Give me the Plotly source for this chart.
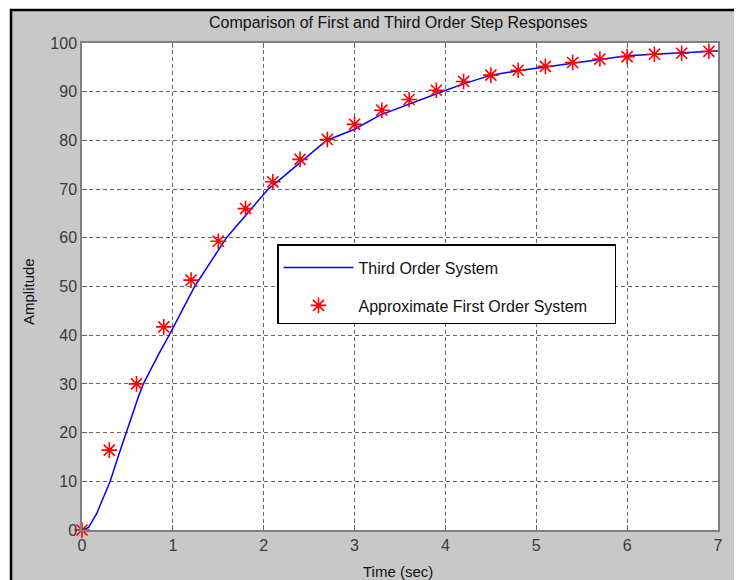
import plotly.graph_objects as go

# Third order system step response
t_third = [0, 0.07, 0.16, 0.2, 0.25, 0.31, 0.4, 0.484, 0.56, 0.62, 0.675, 0.75, 0.85, 0.96,
           1.1, 1.24, 1.4, 1.59, 1.8, 2.05, 2.2, 2.4, 2.6, 2.69, 2.8, 3.0, 3.28, 3.6, 3.8,
           3.96, 4.2, 4.5, 4.8, 5.0, 5.5, 6.0, 6.5, 7.0]
y_third = [0, 0.5, 3.3, 5.1, 7.3, 10.0, 15.2, 20.0, 24.2, 27.3, 30.0, 32.8, 36.3, 40.0,
           45.0, 50.0, 54.6, 60.0, 64.6, 70.0, 72.3, 75.5, 78.6, 80.0, 80.8, 82.3, 85.2, 87.5,
           88.9, 90.0, 91.6, 93.4, 94.3, 94.8, 96.2, 97.4, 97.9, 98.35]

# Approximate first order system samples
t_first = [0, 0.3, 0.6, 0.9, 1.2, 1.5, 1.8, 2.1, 2.4, 2.7, 3.0, 3.3, 3.6, 3.9, 4.2, 4.5,
           4.8, 5.1, 5.4, 5.7, 6.0, 6.3, 6.6, 6.9]
y_first = [0, 16.4, 30.0, 41.7, 51.3, 59.3, 66.0, 71.5, 76.1, 80.2, 83.3, 86.2, 88.4, 90.3,
           92.1, 93.4, 94.4, 95.2, 96.0, 96.7, 97.2, 97.7, 97.9, 98.3]

x_ticks = [0, 1, 2, 3, 4, 5, 6, 7]
y_ticks = [0, 10, 20, 30, 40, 50, 60, 70, 80, 90, 100]

title_text = "Comparison of First and Third Order Step Responses"
xlabel = "Time (sec)"
ylabel = "Amplitude"
series_names = ["Third Order System", "Approximate First Order System"]

# page is offset by the 8px body margin; coordinates below are page pixels
OFF = 8
W, H = 742 - OFF, 580 - OFF
ML, MR, MT, MB = 82 - OFF, 24, 43 - OFF, 50
PW = W - ML - MR
PH = H - MT - MB


def px_x(px):
    """page pixel -> paper x"""
    return (px - OFF - ML) / PW


def px_y(py):
    """page pixel -> paper y"""
    return (H - MB - (py - OFF)) / PH


GREY_BG = "#c8c8c8"
FONT = "Liberation Sans"
NBSP = "\u00a0"

fig = go.Figure()
fig.add_trace(go.Scatter(
    x=t_third, y=y_third, mode="lines", name=series_names[0],
    line=dict(color="#0000ff", width=1.5),
    legendgroup="a"))
fig.add_trace(go.Scatter(
    x=t_first, y=y_first, mode="markers", name=series_names[1] + NBSP * 5,
    marker=dict(symbol="asterisk-open", size=13, color="#ff0000",
                line=dict(color="#ff0000", width=1.6)),
    legendgroup="b", cliponaxis=False))

axis_common = dict(
    showgrid=True, gridcolor="#666666", griddash="4px,3px", gridwidth=1,
    showline=True, linecolor="#808080", linewidth=1.5, mirror="ticks",
    ticks="inside", ticklen=5, tickcolor="#666666", tickwidth=1,
    zeroline=False, tickfont=dict(family=FONT, size=16, color="#3a3a3a"),
)

fig.update_xaxes(range=[0, 7], tickvals=x_ticks, ticktext=[str(v) for v in x_ticks],
                 **axis_common)
fig.update_yaxes(range=[0, 100], tickvals=y_ticks, ticktext=[str(v) for v in y_ticks],
                 **axis_common)

shapes = [
    dict(type="rect", xref="paper", yref="paper", x0=px_x(0), x1=px_x(760),
         y0=px_y(9), y1=px_y(0), fillcolor="white", line=dict(width=0), layer="below"),
    dict(type="rect", xref="paper", yref="paper", x0=px_x(0), x1=px_x(10),
         y0=px_y(590), y1=px_y(0), fillcolor="white", line=dict(width=0), layer="below"),
    dict(type="line", xref="paper", yref="paper", x0=px_x(10), x1=px_x(760),
         y0=px_y(10), y1=px_y(10), line=dict(color="black", width=2.5)),
    dict(type="line", xref="paper", yref="paper", x0=px_x(11), x1=px_x(11),
         y0=px_y(9), y1=px_y(590), line=dict(color="black", width=2.5)),
]

annotations = [
    dict(text=title_text, xref="paper", yref="paper", x=px_x(398), y=px_y(22),
         showarrow=False, xanchor="center", yanchor="middle",
         font=dict(family=FONT, size=16, color="#111111")),
    dict(text=xlabel, xref="paper", yref="paper", x=px_x(398), y=px_y(571),
         showarrow=False, xanchor="center", yanchor="middle",
         font=dict(family=FONT, size=15, color="#111111")),
    dict(text=ylabel, xref="paper", yref="paper", x=px_x(28), y=px_y(292),
         showarrow=False, xanchor="center", yanchor="middle", textangle=-90,
         font=dict(family=FONT, size=15, color="#111111")),
]

fig.update_layout(
    width=W, height=H,
    margin=dict(l=ML, r=MR, t=MT, b=MB, pad=0),
    paper_bgcolor=GREY_BG, plot_bgcolor="white",
    showlegend=True,
    legend=dict(x=px_x(277), y=px_y(244), xanchor="left", yanchor="top",
                bgcolor="white", bordercolor="black", borderwidth=1.5,
                font=dict(family=FONT, size=16, color="#111111"),
                title=dict(text=NBSP, font=dict(family=FONT, size=4)),
                traceorder="grouped", tracegroupgap=14, itemwidth=70),
    shapes=shapes, annotations=annotations,
)

fig.write_html("out.html")
